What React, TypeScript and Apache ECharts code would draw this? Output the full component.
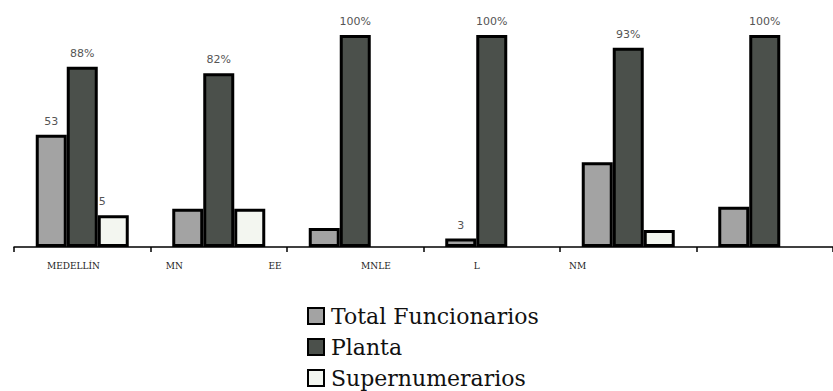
import React, { useEffect, useRef } from "react";
import * as echarts from "echarts";

const categories = ["G1", "G2", "G3", "G4", "G5", "G6"];
const axisLabels = ["MEDELLÍN", "MN", "EE", "MNLE", "L", "NM"];
const totalValues = [53, 18, 9, 4, 40, 19];
const plantaValues = [85, 82, 100, 100, 94, 100];
const superValues = [15, 18, 0, 0, 8, 0];
const totalLabels = ["53", "", "", "3", "", ""];
const plantaLabels = ["88%", "82%", "100%", "100%", "93%", "100%"];
const superLabels = ["5", "", "", "", "", ""];
const seriesNames = ["Total Funcionarios", "Planta", "Supernumerarios"];

const labelStyle = {
  show: true,
  position: "top" as const,
  distance: 8,
  color: "#555",
  fontSize: 11,
  fontFamily: "DejaVu Sans",
};

function items(values: number[], labels: string[], offsets?: number[][]) {
  return values.map((v, i) => ({
    value: v === 0 ? null : v,
    label: labels[i]
      ? { ...labelStyle, formatter: labels[i], offset: offsets ? offsets[i] : [0, 0] }
      : { show: false },
  }));
}

export default function App() {
  const ref = useRef<HTMLDivElement>(null);
  useEffect(() => {
    if (!ref.current) return;
    const chart = echarts.init(ref.current, undefined, { renderer: "svg" });
    const barBase = {
      type: "bar" as const,
      barWidth: 31,
      barGap: "0%",
      xAxisIndex: 0,
      yAxisIndex: 0,
    };
    chart.setOption({
      animation: false,
      backgroundColor: "#ffffff",
      grid: [
        { left: 14, top: 35, width: 834, height: 212 },
        { left: 23, top: 35, width: 605, height: 212 },
      ],
      xAxis: [
        {
          type: "category",
          gridIndex: 0,
          data: categories,
          axisLine: { show: true, lineStyle: { color: "#000", width: 1.5 } },
          axisTick: { show: true, length: 5, lineStyle: { color: "#000", width: 1.5 } },
          axisLabel: { show: false },
        },
        {
          type: "category",
          gridIndex: 1,
          data: axisLabels,
          axisLine: { show: false },
          axisTick: { show: false },
          axisLabel: {
            show: true,
            margin: 14,
            fontSize: 9,
            color: "#222",
            fontFamily: "DejaVu Serif",
          },
        },
      ],
      yAxis: [
        { type: "value", gridIndex: 0, min: 0, max: 100, show: false, splitLine: { show: false } },
        { type: "value", gridIndex: 1, min: 0, max: 100, show: false, splitLine: { show: false } },
      ],
      legend: {
        orient: "vertical",
        left: 307,
        top: 305,
        height: 90,
        padding: 0,
        itemWidth: 16,
        itemHeight: 16,
        itemGap: 9,
        icon: "rect",
        data: seriesNames,
        textStyle: {
          fontFamily: "DejaVu Serif",
          fontSize: 22,
          color: "#111",
          padding: [0, 0, 0, 2],
          lineHeight: 22,
        },
      },
      series: [
        {
          ...barBase,
          name: seriesNames[0],
          itemStyle: { color: "#a3a3a3", borderColor: "#000", borderWidth: 3 },
          data: items(totalValues, totalLabels),
        },
        {
          ...barBase,
          name: seriesNames[1],
          itemStyle: { color: "#4b504b", borderColor: "#000", borderWidth: 3 },
          data: items(plantaValues, plantaLabels),
        },
        {
          ...barBase,
          name: seriesNames[2],
          itemStyle: { color: "#f3f6f0", borderColor: "#000", borderWidth: 3 },
          data: items(superValues, superLabels, [[-11, 0], [0, 0], [0, 0], [0, 0], [0, 0], [0, 0]]),
        },
      ],
    });
    return () => chart.dispose();
  }, []);
  return <div ref={ref} style={{ width: 833, height: 391, position: "absolute", left: 0, top: 0 }} />;
}
